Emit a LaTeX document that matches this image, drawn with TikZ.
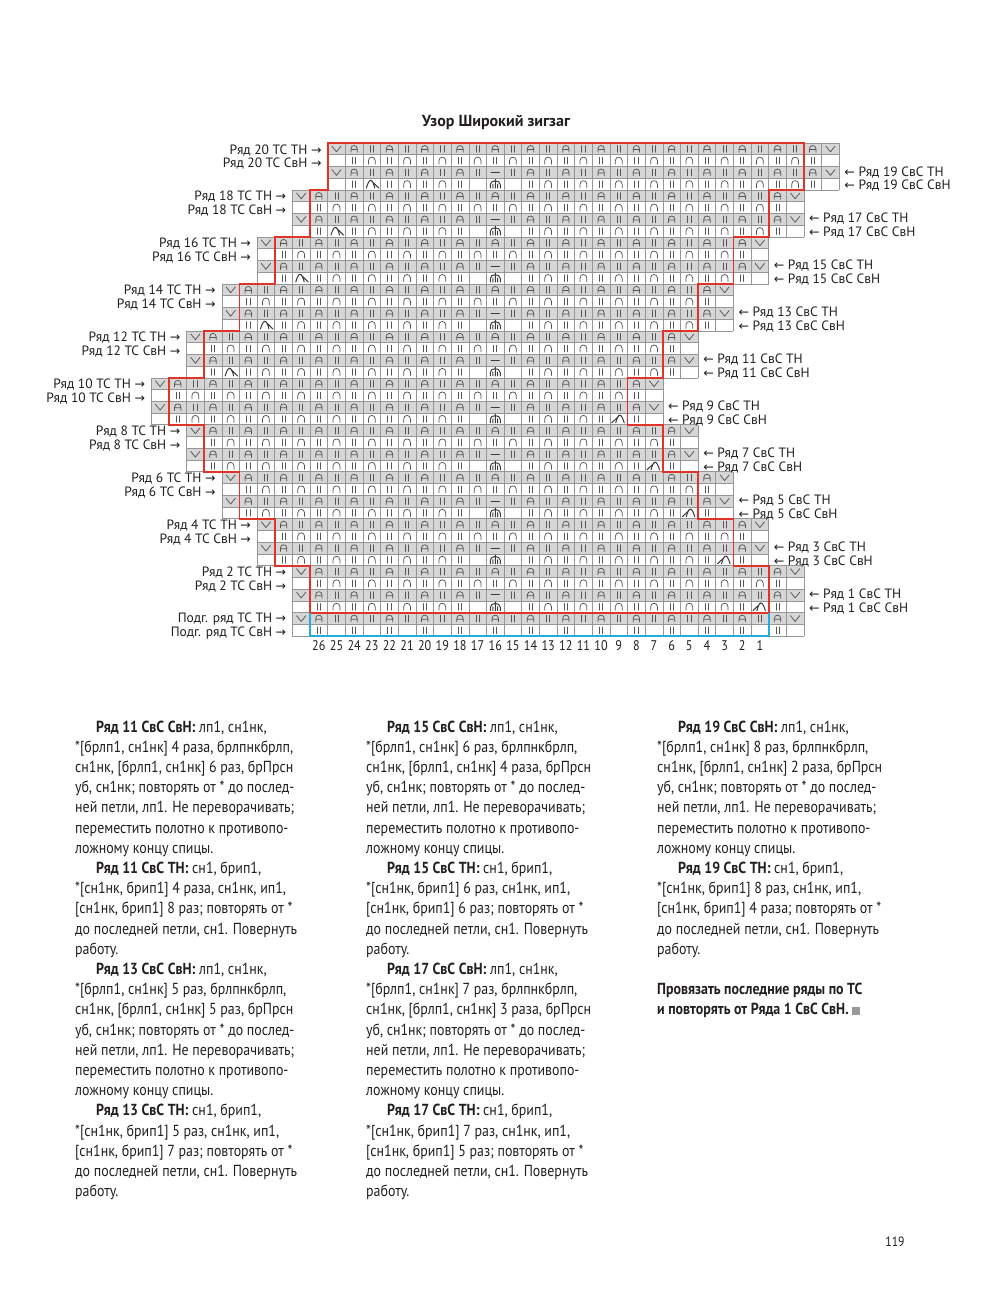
\documentclass[tikz,border=0pt]{standalone}
\usepackage{fontspec}
\setmainfont{PT Sans}
\newfontfamily\bodyf{PT Sans}[FakeStretch=0.87]
\newfontfamily\symf{DejaVu Sans}
\definecolor{cellgray}{RGB}{214,214,214}
\definecolor{gridc}{RGB}{150,150,150}
\definecolor{symc}{RGB}{85,85,85}
\definecolor{redc}{RGB}{222,52,42}
\definecolor{cyanc}{RGB}{38,172,218}
\definecolor{txt}{RGB}{35,31,32}
\def\CW{17.64}\def\CH{11.74}\def\XO{292.4}\def\YO{143}
\tikzset{
  gridln/.style={draw=gridc,line width=0.6pt},
  symst/.style={draw=symc,line width=0.75pt,line cap=round,line join=round},
  symbold/.style={draw=symc!70!black,line width=1pt,line cap=round,line join=round},
  zig/.style={draw=redc,line width=1.8pt},
  prepln/.style={draw=cyanc,line width=1.8pt},
  lbl/.style={font=\fontsize{13.5}{15}\selectfont,text=txt,inner sep=0pt},
  numlbl/.style={font=\bodyf\fontsize{14}{15}\selectfont,text=txt,inner sep=0pt},
  bodytxt/.style={font=\bodyf\fontsize{16}{20.2}\selectfont,text=txt,inner sep=0pt,align=left,anchor=north west}
}
\newcommand\arr{{\symf\fontsize{12.5}{13}\selectfont →}}
\newcommand\larr{{\symf\fontsize{12.5}{13}\selectfont ←}}
\newcommand\symnone[2]{}
\newcommand\symA[2]{\draw[symst,shift={(#1,#2)}] (-3.2,3.4) -- (-3.2,0) .. controls (-3.2,-4.4) and (3.2,-4.4) .. (3.2,0) -- (3.2,3.4) (-3.2,0.7) -- (3.2,0.7);}
\newcommand\symN[2]{\draw[symst,shift={(#1,#2)}] (-3.4,3.6) -- (-3.4,0) .. controls (-3.4,-4.6) and (3.4,-4.6) .. (3.4,0) -- (3.4,3.6);}
\newcommand\symII[2]{\draw[symst,shift={(#1,#2)}] (-1.6,-3.2) -- (-1.6,3.4) (1.6,-3.2) -- (1.6,3.4);}
\newcommand\symV[2]{\draw[symst,shift={(#1,#2)}] (-4.6,-2.8) -- (0,3) -- (4.6,-2.8);}
\newcommand\symDash[2]{\draw[symbold,shift={(#1,#2)}] (-4.2,0) -- (4.2,0);}
\newcommand\symInc[2]{\draw[symbold,shift={(#1,#2)}] (-5,4) -- (-5,0.5) .. controls (-5,-4.5) and (5,-4.5) .. (5,0.5) -- (5,4) (0,-4.8) -- (0,4) (-2.3,0) -- (-2.3,4) (2.3,0) -- (2.3,4);}
\newcommand\symDecL[2]{\draw[symbold,shift={(#1,#2)}] (-5.5,4) .. controls (-4,-1) and (-2.5,-3.8) .. (-1,-3.8) .. controls (0.5,-3.8) and (2,0) .. (3,4) (-1,-3.8) -- (7,4);}
\newcommand\symDecR[2]{\draw[symbold,shift={(#1,#2)}] (5.5,4) .. controls (4,-1) and (2.5,-3.8) .. (1,-3.8) .. controls (-0.5,-3.8) and (-2,0) .. (-3,4) (1,-3.8) -- (-7,4);}
\begin{document}
\begin{tikzpicture}[x=1pt,y=-1pt]
\fill[white] (0,0) rectangle (997,1295);
\useasboundingbox (0,0) rectangle (997,1295);
% title
\node[font=\bfseries\fontsize{16}{18}\selectfont,text=txt,inner sep=0pt] (title) at (496,122) {Узор Широкий зигзаг};
% row fills
\foreach \rr in {0,...,41}{
  \pgfmathtruncatemacro\gg{min(int(\rr/4),10)}
  \pgfmathtruncatemacro\ss{\rr-4*int(\rr/4)}
  \pgfmathtruncatemacro\off{{2,0,-2,-4,-6,-8,-6,-4,-2,0,0}[\gg]}
  \pgfmathsetmacro\LL{\XO+\off*\CW}
  \pgfmathsetmacro\TT{\YO+\rr*\CH}
  \ifodd\ss\else \fill[cellgray] (\LL,\TT) rectangle ++(29*\CW,\CH);\fi
}
% grid and symbols
\foreach \rr in {0,...,41}{
  \pgfmathtruncatemacro\gg{min(int(\rr/4),10)}
  \pgfmathtruncatemacro\ss{\rr-4*int(\rr/4)}
  \pgfmathtruncatemacro\off{{2,0,-2,-4,-6,-8,-6,-4,-2,0,0}[\gg]}
  \pgfmathsetmacro\LL{\XO+\off*\CW}
  \pgfmathsetmacro\TT{\YO+\rr*\CH}
  \draw[gridln] (\LL,\TT) -- ++(29*\CW,0) (\LL,\TT+\CH) -- ++(29*\CW,0);
  \foreach \kk in {0,...,29}{\draw[gridln] (\LL+\kk*\CW,\TT) -- ++(0,\CH);}
  \pgfmathtruncatemacro\inc{11-\off}
  \pgfmathsetmacro\cy{\TT+0.5*\CH}
  \foreach \kk in {0,...,28}{
    \pgfmathsetmacro\cx{\LL+(\kk+0.5)*\CW}
    \def\p{none}
    \ifodd\ss
      \ifnum\kk=0 \else\ifnum\kk=28 \else
        \ifodd\kk \def\p{II}\else \def\p{N}\fi
      \fi\fi
      \ifnum\rr=41 \ifodd\kk\else\def\p{none}\fi\fi
      \ifnum\ss=3
        \ifnum\kk=\inc \def\p{Inc}\fi
        \ifnum\kk=\numexpr\inc-1\relax \def\p{none}\fi
        \ifnum\kk=\numexpr\inc+1\relax \def\p{none}\fi
        \ifnum\gg<5 \ifnum\kk=2 \def\p{DecL}\fi \else \ifnum\kk=26 \def\p{DecR}\fi \fi
      \fi
    \else
      \ifnum\kk=0 \def\p{V}\else\ifnum\kk=28 \def\p{V}\else
        \ifodd\kk \def\p{A}\else \def\p{II}\fi
      \fi\fi
      \ifnum\ss=2 \ifnum\kk=\inc \def\p{Dash}\fi\fi
    \fi
    \csname sym\p\endcsname{\cx}{\cy}
  }
}
% zigzag outline
\draw[zig] (327.68,143) -- (803.96,143) -- (803.96,189.96) -- (768.68,189.96) -- (768.68,236.92) -- (733.4,236.92) -- (733.4,283.88) -- (698.12,283.88) -- (698.12,330.84) -- (662.84,330.84) -- (662.84,377.8) -- (627.56,377.8) -- (627.56,424.76) -- (662.84,424.76) -- (662.84,471.72) -- (698.12,471.72) -- (698.12,518.68) -- (733.4,518.68) -- (733.4,565.64) -- (768.68,565.64) -- (768.68,612.6) -- (310.04,612.6) -- (310.04,565.64) -- (274.76,565.64) -- (274.76,518.68) -- (239.48,518.68) -- (239.48,471.72) -- (204.2,471.72) -- (204.2,424.76) -- (168.92,424.76) -- (168.92,377.8) -- (204.2,377.8) -- (204.2,330.84) -- (239.48,330.84) -- (239.48,283.88) -- (274.76,283.88) -- (274.76,236.92) -- (310.04,236.92) -- (310.04,189.96) -- (327.68,189.96) -- cycle;
\draw[prepln] (310.04,612.6) -- (310.04,636.08) -- (768.68,636.08) -- (768.68,612.6);
% row labels
\foreach \gg/\off in {0/2,1/0,2/-2,3/-4,4/-6,5/-8,6/-6,7/-4,8/-2,9/0}{
  \pgfmathsetmacro\LL{\XO+\off*\CW}
  \pgfmathsetmacro\YY{\YO+4*\gg*\CH}
  \pgfmathtruncatemacro\ev{20-2*\gg}
  \pgfmathtruncatemacro\od{19-2*\gg}
  \node[lbl,anchor=base east] (lt\gg) at (\LL-6,\YY+11) {Ряд \ev\ ТС ТН \arr};
  \node[lbl,anchor=base east] (ls\gg) at (\LL-6,\YY+24.5) {Ряд \ev\ ТС СвН \arr};
  \node[lbl,anchor=base west] (rt\gg) at (\LL+29*\CW+5,\YY+33) {\larr\ Ряд \od\ СвС ТН};
  \node[lbl,anchor=base west] (rs\gg) at (\LL+29*\CW+5,\YY+46.7) {\larr\ Ряд \od\ СвС СвН};
}
\node[lbl,anchor=base east] (pt) at (286.4,622) {Подг. ряд ТС ТН \arr};
\node[lbl,anchor=base east] (ps) at (286.4,636) {Подг. ряд ТС СвН \arr};
% column numbers
\foreach \c in {1,...,26}{
  \node[numlbl] (n\c) at ({\XO+(27.5-\c)*\CW},645.5) {\c};
}
% body text
\node[bodytxt] (col1) at (75,720.5) {%
\hspace*{21pt}\textbf{Ряд 11 СвС СвН:} лп1, сн1нк,\\{}%
*[брлп1, сн1нк] 4 раза, брлпнкбрлп,\\{}%
сн1нк, [брлп1, сн1нк] 6 раз, брПрсн\\{}%
уб, сн1нк; повторять от * до послед-\\{}%
ней петли, лп1. Не переворачивать;\\{}%
переместить полотно к противопо-\\{}%
ложному концу спицы.\\{}%
\hspace*{21pt}\textbf{Ряд 11 СвС ТН:} сн1, брип1,\\{}%
*[сн1нк, брип1] 4 раза, сн1нк, ип1,\\{}%
[сн1нк, брип1] 8 раз; повторять от *\\{}%
до последней петли, сн1. Повернуть\\{}%
работу.\\{}%
\hspace*{21pt}\textbf{Ряд 13 СвС СвН:} лп1, сн1нк,\\{}%
*[брлп1, сн1нк] 5 раз, брлпнкбрлп,\\{}%
сн1нк, [брлп1, сн1нк] 5 раз, брПрсн\\{}%
уб, сн1нк; повторять от * до послед-\\{}%
ней петли, лп1. Не переворачивать;\\{}%
переместить полотно к противопо-\\{}%
ложному концу спицы.\\{}%
\hspace*{21pt}\textbf{Ряд 13 СвС ТН:} сн1, брип1,\\{}%
*[сн1нк, брип1] 5 раз, сн1нк, ип1,\\{}%
[сн1нк, брип1] 7 раз; повторять от *\\{}%
до последней петли, сн1. Повернуть\\{}%
работу.};
\node[bodytxt] (col2) at (366,720.5) {%
\hspace*{21pt}\textbf{Ряд 15 СвС СвН:} лп1, сн1нк,\\{}%
*[брлп1, сн1нк] 6 раз, брлпнкбрлп,\\{}%
сн1нк, [брлп1, сн1нк] 4 раза, брПрсн\\{}%
уб, сн1нк; повторять от * до послед-\\{}%
ней петли, лп1. Не переворачивать;\\{}%
переместить полотно к противопо-\\{}%
ложному концу спицы.\\{}%
\hspace*{21pt}\textbf{Ряд 15 СвС ТН:} сн1, брип1,\\{}%
*[сн1нк, брип1] 6 раз, сн1нк, ип1,\\{}%
[сн1нк, брип1] 6 раз; повторять от *\\{}%
до последней петли, сн1. Повернуть\\{}%
работу.\\{}%
\hspace*{21pt}\textbf{Ряд 17 СвС СвН:} лп1, сн1нк,\\{}%
*[брлп1, сн1нк] 7 раз, брлпнкбрлп,\\{}%
сн1нк, [брлп1, сн1нк] 3 раза, брПрсн\\{}%
уб, сн1нк; повторять от * до послед-\\{}%
ней петли, лп1. Не переворачивать;\\{}%
переместить полотно к противопо-\\{}%
ложному концу спицы.\\{}%
\hspace*{21pt}\textbf{Ряд 17 СвС ТН:} сн1, брип1,\\{}%
*[сн1нк, брип1] 7 раз, сн1нк, ип1,\\{}%
[сн1нк, брип1] 5 раз; повторять от *\\{}%
до последней петли, сн1. Повернуть\\{}%
работу.};
\node[bodytxt] (col3) at (657,720.5) {%
\hspace*{21pt}\textbf{Ряд 19 СвС СвН:} лп1, сн1нк,\\{}%
*[брлп1, сн1нк] 8 раз, брлпнкбрлп,\\{}%
сн1нк, [брлп1, сн1нк] 2 раза, брПрсн\\{}%
уб, сн1нк; повторять от * до послед-\\{}%
ней петли, лп1. Не переворачивать;\\{}%
переместить полотно к противопо-\\{}%
ложному концу спицы.\\{}%
\hspace*{21pt}\textbf{Ряд 19 СвС ТН:} сн1, брип1,\\{}%
*[сн1нк, брип1] 8 раз, сн1нк, ип1,\\{}%
[сн1нк, брип1] 4 раза; повторять от *\\{}%
до последней петли, сн1. Повернуть\\{}%
работу.\\{}%
~\\{}%
\textbf{Провязать последние ряды по ТС}\\{}%
\textbf{и повторять от Ряда 1 СвС СвН.} {\color{gray!80}\rule{8pt}{8pt}}};
\node[font=\bodyf\fontsize{13.5}{14}\selectfont,text=txt,inner sep=0pt] (page) at (895,1241.5) {119};
\end{tikzpicture}
\end{document}
